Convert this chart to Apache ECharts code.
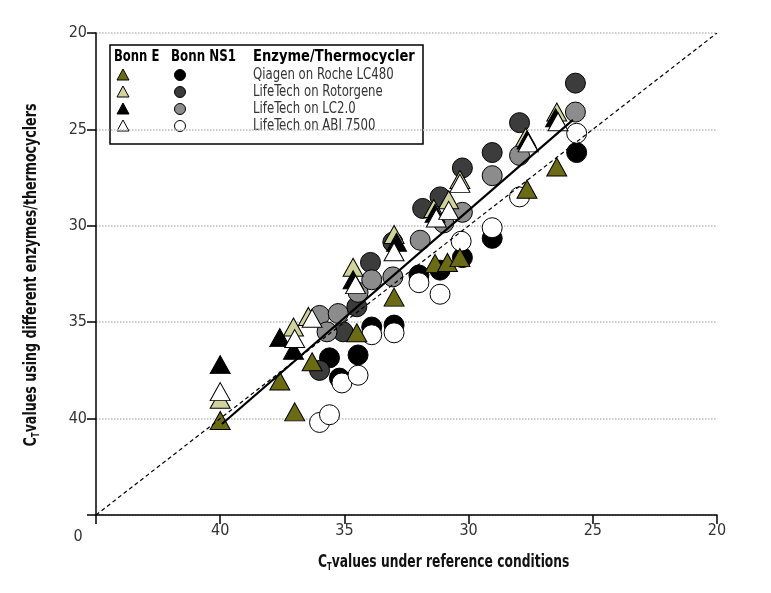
<!DOCTYPE html>
<html>
<head>
<meta charset="utf-8">
<script src="https://cdn.jsdelivr.net/npm/echarts@6/dist/echarts.min.js"></script>
<style>
  html, body { margin: 0; padding: 0; background: #fff; }
  #chart { width: 771px; height: 593px; }
</style>
</head>
<body>
<div id="chart"></div>
<script>
// Bonn E assay (triangles): [reference Ct, Ct with other enzyme/thermocycler]
const eQiagen = [[40.0, 40.1], [37.6, 38.05], [37.0, 39.65], [36.3, 37.05], [34.5, 35.55], [33.0, 33.7], [31.35, 31.95], [30.85, 31.9], [30.35, 31.65], [27.65, 28.1], [26.45, 26.95]];
const eRotorgene = [[40.0, 39.0], [37.05, 35.25], [36.45, 34.7], [34.65, 32.15], [33.0, 30.45], [31.4, 29.1], [30.8, 28.65], [30.35, 27.6], [27.7, 25.4], [26.45, 24.1]];
const eLC2 = [[40.0, 37.2], [37.6, 35.8], [37.05, 36.45], [34.65, 32.8], [32.9, 30.85], [31.35, 29.35], [27.65, 25.55], [26.5, 24.4]];
const eABI = [[40.0, 38.6], [37.0, 35.85], [36.3, 34.8], [34.55, 33.05], [33.0, 31.35], [31.3, 29.6], [30.8, 29.2], [30.35, 27.8], [27.6, 25.7], [26.4, 24.6]];

// Bonn NS1 assay (circles)
const nQiagen = [[35.6, 36.85], [35.2, 37.9], [34.45, 36.7], [33.9, 35.25], [33.0, 35.15], [32.0, 32.55], [31.15, 32.3], [30.25, 31.65], [29.05, 30.65], [25.65, 26.2]];
const nRotorgene = [[36.0, 37.5], [35.05, 35.5], [34.5, 34.2], [33.95, 31.9], [33.05, 30.85], [31.85, 29.1], [31.15, 28.5], [30.25, 27.0], [29.05, 26.2], [27.95, 24.65], [25.7, 22.6]];
const nLC2 = [[36.0, 34.65], [35.7, 35.5], [35.25, 34.55], [34.45, 33.45], [33.9, 32.8], [33.05, 32.65], [31.95, 30.75], [31.0, 29.85], [30.25, 29.3], [29.05, 27.4], [27.95, 26.35], [25.7, 24.1]];
const nABI = [[36.0, 40.2], [35.6, 39.8], [35.1, 38.15], [34.45, 37.75], [33.9, 35.65], [33.0, 35.55], [32.0, 32.95], [31.15, 33.55], [30.3, 30.8], [29.05, 30.1], [27.95, 28.5], [25.65, 25.2]];

// lines
const identityLine = [[45, 45], [20, 20]];
const fitLine = [[39.93, 40.28], [25.8, 24.51]];

const enzymes = ["Qiagen on Roche LC480", "LifeTech on Rotorgene", "LifeTech on LC2.0", "LifeTech on ABI 7500"];
const triColors = ["#6b6b14", "#d2d29c", "#000000", "#ffffff"];
const dotColors = ["#000000", "#3c3c3c", "#8c8c8c", "#ffffff"];

const font = "'DejaVu Sans Condensed', 'Liberation Sans Narrow', 'Noto Sans', sans-serif";

function scatter(data, symbol, color, size) {
  return {
    type: "scatter",
    data: data,
    symbol: symbol,
    symbolSize: size,
    itemStyle: { color: color, borderColor: "#000", borderWidth: 1, opacity: 1 },
    silent: true,
  };
}

// C with subscript T, then the rest of the title
function ctTitle(rest, size) {
  return {
    text: "{c|C}{t|T}{v|" + rest + "}",
    rich: {
      c: { font: "bold " + size + "px " + font, fill: "#111" },
      t: { font: "bold 10px " + font, fill: "#111", padding: [11, 0, 0, 0] },
      v: { font: "bold " + size + "px " + font, fill: "#111" },
    },
  };
}

// legend drawn by hand: two marker columns + one label column
const legendItems = [
  { type: "rect", shape: { x: 110, y: 45, width: 313, height: 99 }, style: { fill: "#fff", stroke: "#000", lineWidth: 1.5 } },
  { type: "text", x: 114, y: 57, scaleX: 0.86, style: { text: "Bonn E", font: "bold 15px " + font, fill: "#000", verticalAlign: "middle" } },
  { type: "text", x: 171, y: 57, scaleX: 0.88, style: { text: "Bonn NS1", font: "bold 15px " + font, fill: "#000", verticalAlign: "middle" } },
  { type: "text", x: 253, y: 57, scaleX: 0.97, style: { text: "Enzyme/Thermocycler", font: "bold 15px " + font, fill: "#000", verticalAlign: "middle" } },
];
const rowY = [75, 92, 109, 126];
enzymes.forEach(function (name, i) {
  const cy = rowY[i];
  legendItems.push({
    type: "polygon",
    shape: { points: [[123, cy - 6], [129, cy + 5], [117, cy + 5]] },
    style: { fill: triColors[i], stroke: "#000", lineWidth: 1 },
  });
  legendItems.push({
    type: "circle",
    shape: { cx: 180, cy: cy, r: 5.5 },
    style: { fill: dotColors[i], stroke: "#000", lineWidth: 1 },
  });
  legendItems.push({
    type: "text", x: 253, y: cy, scaleX: 0.87,
    style: { text: name, font: "15px " + font, fill: "#333", verticalAlign: "middle" },
  });
});

const xTitle = ctTitle("values under reference conditions", 18);
xTitle.verticalAlign = "middle";
const yTitle = ctTitle("values using different enzymes/thermocyclers", 18);
yTitle.verticalAlign = "middle";
yTitle.align = "center";

const chart = echarts.init(document.getElementById("chart"));
chart.setOption({
  backgroundColor: "#fff",
  animation: false,
  grid: { left: 96, right: 54, top: 33, bottom: 78, containLabel: false },
  xAxis: {
    type: "value",
    min: 20,
    max: 45,
    interval: 5,
    inverse: true,
    axisLine: { lineStyle: { color: "#000", width: 1.5 } },
    axisTick: { length: 9, lineStyle: { color: "#000", width: 1.5 } },
    axisLabel: {
      margin: 8, fontFamily: font, fontSize: 16, color: "#333",
      formatter: function (v) { return v === 45 ? "" : String(v); },
    },
    splitLine: { show: false },
  },
  yAxis: {
    type: "value",
    min: 20,
    max: 45,
    interval: 5,
    inverse: true,
    axisLine: { lineStyle: { color: "#000", width: 1.5 } },
    axisTick: { length: 9, lineStyle: { color: "#000", width: 1.5 } },
    axisLabel: {
      margin: 9, fontFamily: font, fontSize: 16, color: "#333",
      formatter: function (v) { return v === 45 ? "" : String(v); },
    },
    splitLine: { lineStyle: { type: "dotted", color: "#bbb", width: 1.5 } },
  },
  graphic: legendItems.concat([
    { type: "text", x: 78, y: 537, style: { text: "0", font: "16px " + font, fill: "#333", align: "center", verticalAlign: "middle" } },
    { type: "text", x: 318, y: 562, scaleX: 0.76, style: xTitle },
    { type: "text", x: 31, y: 275, rotation: Math.PI / 2, scaleX: 0.78, style: yTitle },
  ]),
  series: [
    scatter(nQiagen, "circle", dotColors[0], 20),
    scatter(nRotorgene, "circle", dotColors[1], 20),
    scatter(nLC2, "circle", dotColors[2], 20),
    scatter(nABI, "circle", dotColors[3], 20),
    {
      type: "line", data: identityLine, symbol: "none", silent: true,
      lineStyle: { color: "#000", width: 1.2, type: [4, 3] },
    },
    {
      type: "line", data: fitLine, symbol: "none", silent: true,
      lineStyle: { color: "#000", width: 2.2 },
    },
    scatter(eQiagen, "triangle", triColors[0], [20, 18]),
    scatter(eRotorgene, "triangle", triColors[1], [20, 18]),
    scatter(eLC2, "triangle", triColors[2], [20, 18]),
    scatter(eABI, "triangle", triColors[3], [20, 18]),
  ],
});
</script>
</body>
</html>
